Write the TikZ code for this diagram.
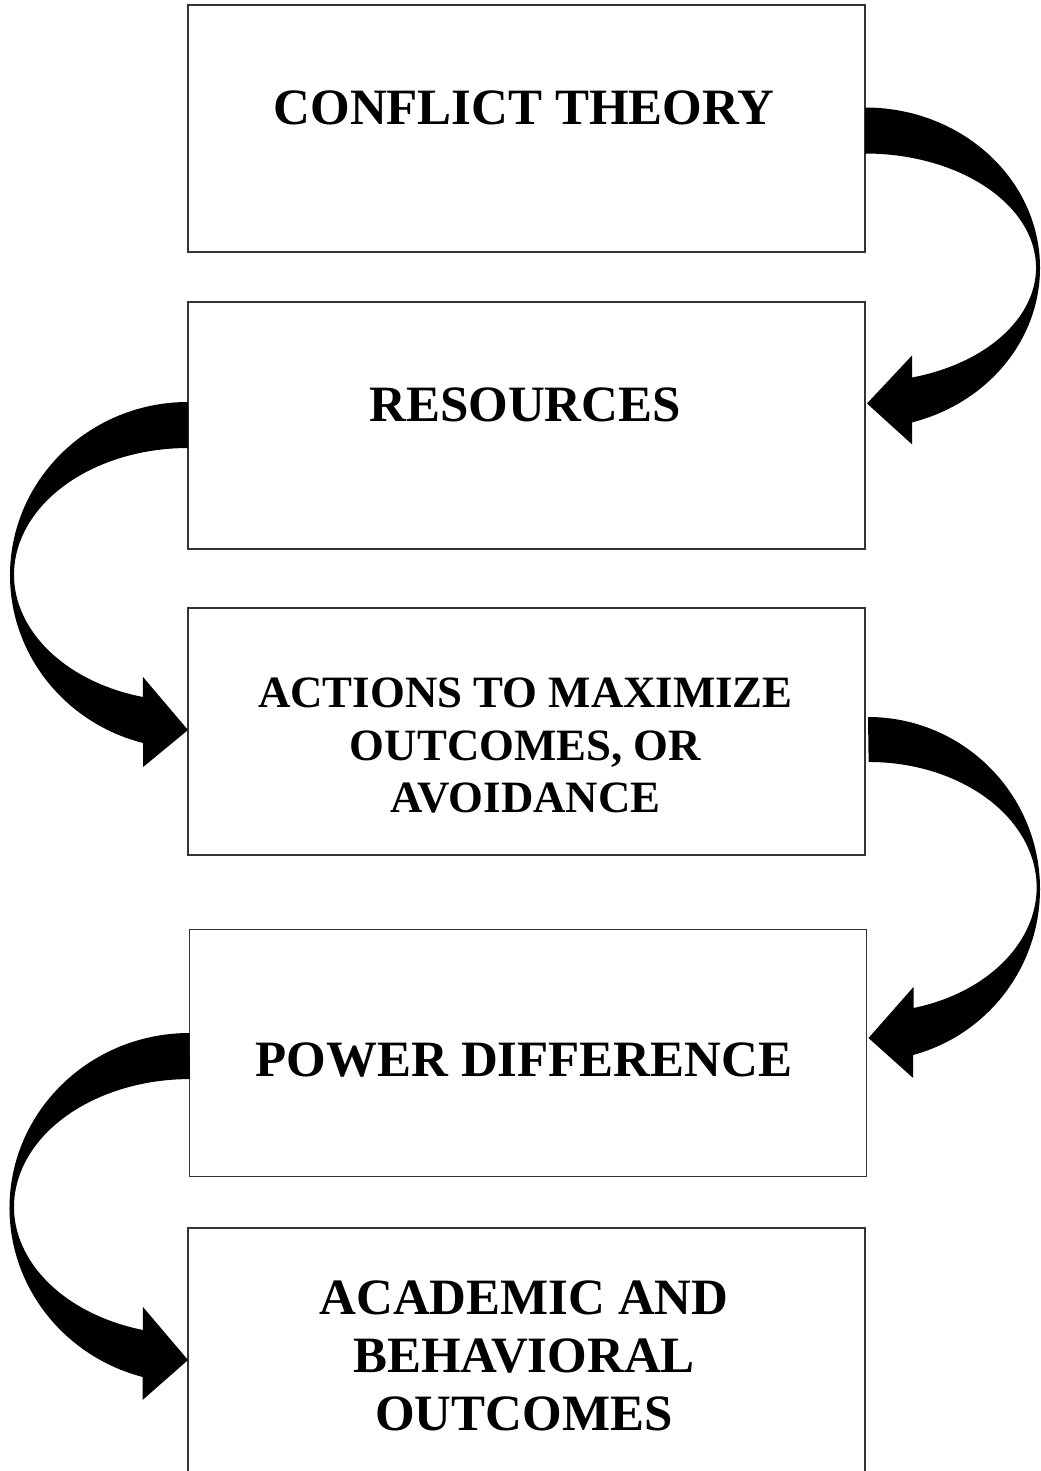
\documentclass[tikz,border=0pt]{standalone}
\usepackage{fontspec}
\setmainfont{Liberation Serif}

\begin{document}
\begin{tikzpicture}[x=0.2mm,y=-0.2mm,
    box/.style={draw=black!80, line width=0.7pt, minimum width=135.4mm, minimum height=49.4mm, outer sep=0pt},
    boxtext/.style={font=\bfseries\fontsize{29}{33}\selectfont, align=center, inner sep=0pt},
    smalltext/.style={boxtext, font=\bfseries\fontsize{25.5}{29.6}\selectfont}]
    \clip (0,0) rectangle (1040,1471);
    \fill[white] (0,0) rectangle (1040,1471);
    % the five boxes
    \node[box] (theory) at (526.5,128.5) {};
    \node[box] (resources) at (526.5,425.5) {};
    \node[box] (actions) at (526.5,731.5) {};
    \node[box] (power) at (528,1053) {};
    \node[box] (academic) at (526.5,1351.5) {};
    \node[boxtext] (theory-txt) at (524,108) {CONFLICT THEORY};
    \node[boxtext] (resources-txt) at (525,405) {RESOURCES};
    \node[smalltext] (actions-txt) at (525.5,745.5) {ACTIONS TO MAXIMIZE\\OUTCOMES, OR\\AVOIDANCE};
    \node[boxtext] (power-txt) at (524,1060) {POWER DIFFERENCE};
    \node[boxtext] (academic-txt) at (524,1356) {ACADEMIC AND\\BEHAVIORAL\\OUTCOMES};
    % curved arrows, right side
    \fill ([shift={(0,-21)}]theory.east)
        arc[start angle=-90, end angle=74.4, x radius=175, y radius=160.4]
        -- ++(0,22) -- ([shift={(2,-22)}]resources.east) -- ++(45,-48) -- ++(0,22)
        arc[start angle=74.05, end angle=-90, x radius=171, y radius=114.2] -- cycle;
    \fill ([shift={(3,-14.5)}]actions.east)
        arc[start angle=-90, end angle=74.8, x radius=172, y radius=172]
        -- ++(0,23) -- ([shift={(2,-15)}]power.east) -- ++(45,-51) -- ++(0,21)
        arc[start angle=74.5, end angle=-90, x radius=168, y radius=125.3] -- cycle;
    % curved arrows, left side
    \fill ([shift={(0,-23.5)}]resources.west)
        arc[start angle=-90, end angle=-255.4, x radius=178, y radius=173.3]
        -- ++(0,24) -- ([shift={(0,-1.5)}]actions.west) -- ++(-45,-53) -- ++(0,20)
        arc[start angle=-255, end angle=-90, x radius=174, y radius=126.65] -- cycle;
    \fill ([shift={(0,-20)}]power.west)
        arc[start angle=-90, end angle=-254.9, x radius=180, y radius=175]
        -- ++(0,23) -- ([shift={(0,8.5)}]academic.west) -- ++(-45,-53) -- ++(0,23)
        arc[start angle=-254.5, end angle=-90, x radius=176, y radius=127.8] -- cycle;
\end{tikzpicture}
\end{document}
